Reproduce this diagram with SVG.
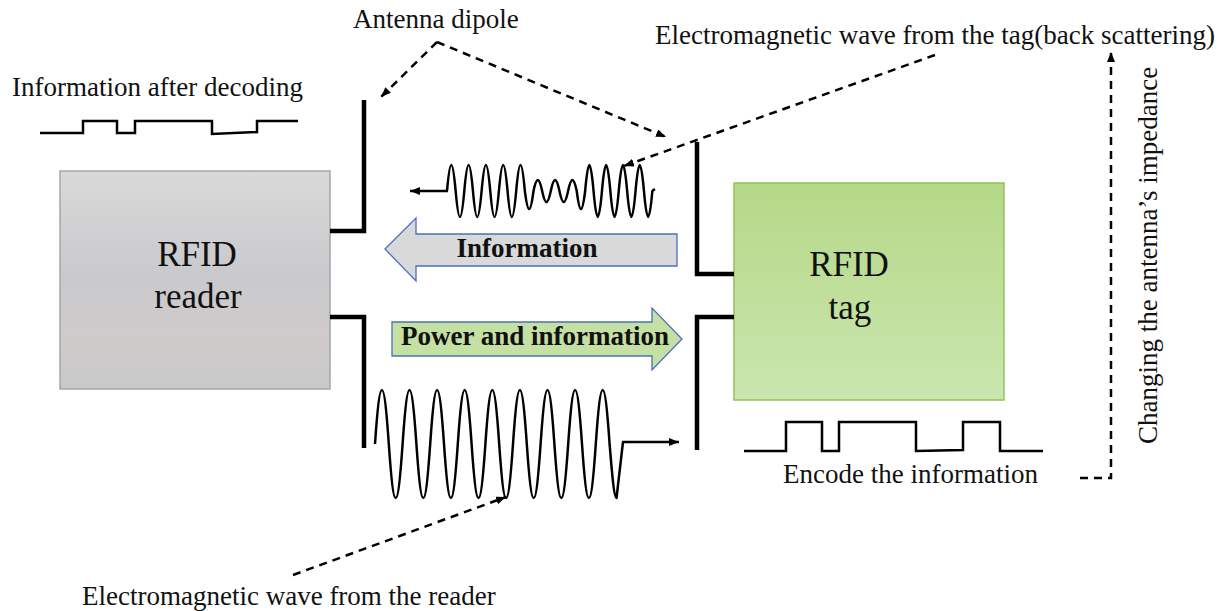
<svg xmlns="http://www.w3.org/2000/svg" width="1228" height="611" viewBox="0 0 1228 611">
<defs>
<linearGradient id="gReader" x1="0" y1="0" x2="0" y2="1">
<stop offset="0" stop-color="#d9d9d9"/>
<stop offset="0.5" stop-color="#c9c9cd"/>
<stop offset="0.75" stop-color="#d0cbcb"/>
<stop offset="1" stop-color="#c9c9c9"/>
</linearGradient>
<linearGradient id="gTag" x1="0" y1="0" x2="0" y2="1">
<stop offset="0" stop-color="#b5d887"/>
<stop offset="1" stop-color="#cae6af"/>
</linearGradient>
<marker id="ah" viewBox="0 0 10 8" refX="10" refY="4" markerWidth="10" markerHeight="8" markerUnits="userSpaceOnUse" orient="auto">
<path d="M0,0 L10,4 L0,8 z" fill="#000"/>
</marker>
<style>
.t{font-family:"Liberation Serif","Times New Roman",serif;font-size:27px;fill:#111}
.tb{font-family:"Liberation Serif","Times New Roman",serif;font-size:27px;font-weight:bold;fill:#111}
.big{font-family:"Liberation Serif","Times New Roman",serif;font-size:35px;fill:#111}
.ant{fill:none;stroke:#000;stroke-width:4.5;stroke-linejoin:miter}
.sig{fill:none;stroke:#000;stroke-width:2.5;stroke-linejoin:miter}
.wave{fill:none;stroke:#000;stroke-width:2.5;stroke-linejoin:round}
.dash{fill:none;stroke:#000;stroke-width:2.5;stroke-dasharray:8 6}
.barrow{stroke:#4a6fc0;stroke-width:1.3}
</style>
</defs>
<rect width="1228" height="611" fill="#fff"/>

<g id="reader">
<rect x="60" y="171" width="270" height="218" fill="url(#gReader)" stroke="#a6a6a6" stroke-width="1.5"/>
<text class="big" x="197" y="266" text-anchor="middle">RFID</text>
<text class="big" x="198" y="308" text-anchor="middle">reader</text>
</g>

<g id="reader-antenna">
<path class="ant" d="M330,231 H364 V100"/>
<path class="ant" d="M330,317 H364 V448"/>
</g>

<g id="tag">
<rect x="734" y="183" width="270" height="217" fill="url(#gTag)" stroke="#92c454" stroke-width="1.5"/>
<text class="big" x="849" y="276" text-anchor="middle">RFID</text>
<text class="big" x="850" y="319" text-anchor="middle">tag</text>
</g>

<g id="tag-antenna">
<path class="ant" d="M734,274 H697 V142"/>
<path class="ant" d="M734,317 H697 V450"/>
</g>

<g id="info-arrow">
<path class="barrow" fill="#d9d9d9" d="M385,249 L416,218 L416,234 L677,234 L677,266 L416,266 L416,281 Z"/>
<text class="tb" x="527" y="257" text-anchor="middle">Information</text>
</g>

<g id="power-arrow">
<path class="barrow" fill="#c5e0a3" d="M392,322 L652,322 L652,308 L682,339 L652,370 L652,356 L392,356 Z"/>
<text class="tb" x="535" y="345" text-anchor="middle">Power and information</text>
</g>

<g id="decoded-signal">
<text class="t" x="12" y="96">Information after decoding</text>
<path class="sig" d="M40,133 H83 V121 H117 V133 H135 V121 H212 V134 L257,132 V121 H298"/>
</g>

<g id="encoded-signal">
<path class="sig" d="M744,451 H786 V422 H822 V451 H839 V422 H916 V451 L963,450 V422 H1000 V451 H1043"/>
<text class="t" x="783" y="483">Encode the information</text>
</g>

<g id="tag-wave">
<path class="wave" d="M447,191
c3.1,-34.7 5.5,-34.7 8.65,0 c3.1,34.7 5.5,34.7 8.65,0
c3.1,-34.7 5.5,-34.7 8.65,0 c3.1,34.7 5.5,34.7 8.65,0
c3.1,-34.7 5.5,-34.7 8.65,0 c3.1,34.7 5.5,34.7 8.65,0
c3.1,-34.7 5.5,-34.7 8.65,0 c3.1,34.7 5.5,34.7 8.65,0
c3.1,-34.7 5.5,-34.7 8.65,0 c3.1,24 5.5,24 8.65,0
c3.1,-14.7 5.5,-14.7 8.65,0 c3.1,14.7 5.5,14.7 8.65,0
c3.1,-14.7 5.5,-14.7 8.65,0 c3.1,14.7 5.5,14.7 8.65,0
c3.1,-14.7 5.5,-14.7 8.65,0 c3,24 5.4,24 8.4,0
c3,-34.7 5.4,-34.7 8.4,0 c3,34.7 5.4,34.7 8.4,0
c3,-34.7 5.4,-34.7 8.4,0 c3,34.7 5.4,34.7 8.4,0
c3,-34.7 5.4,-34.7 8.4,0 c3,34.7 5.4,34.7 8.4,0
c3,-34.7 5.4,-34.7 8.4,0 c3,34.7 5.4,34.7 8.4,0 l2.5,-2"/>
<path class="sig" d="M448,191 H410" marker-end="url(#ah)"/>
</g>

<g id="reader-wave">
<path class="wave" d="M375,444
c5,-72 8.8,-72 13.8,0 c5,72 8.8,72 13.8,0
c5,-72 8.8,-72 13.8,0 c5,72 8.8,72 13.8,0
c5,-72 8.8,-72 13.8,0 c5,72 8.8,72 13.8,0
c5,-72 8.8,-72 13.8,0 c5,72 8.8,72 13.8,0
c5,-72 8.8,-72 13.8,0 c5,72 8.8,72 13.8,0
c5,-72 8.8,-72 13.8,0 c5,72 8.8,72 13.8,0
c5,-72 8.8,-72 13.8,0 c5,72 8.8,72 13.8,0
c5,-72 8.8,-72 13.8,0 c5,72 8.8,72 13.8,0
c5,-72 8.8,-72 13.8,0
c2.3,28 4.4,54 6.9,54 L623,442"/>
<path class="sig" d="M622,442 H679" marker-end="url(#ah)"/>
</g>

<g id="labels">
<text class="t" x="353" y="28">Antenna dipole</text>
<text class="t" x="655" y="44">Electromagnetic wave from the tag(back scattering)</text>
<text class="t" x="82" y="605">Electromagnetic wave from the reader</text>
<text class="t" transform="translate(1157,444) rotate(-90)">Changing the antenna’s impedance</text>
</g>

<g id="connectors">
<path class="dash" d="M437,42 L381,97" marker-end="url(#ah)"/>
<path class="dash" d="M437,42 L666,137" marker-end="url(#ah)"/>
<path class="dash" d="M935,55 L624,166" marker-end="url(#ah)"/>
<path class="dash" d="M293,575 L506,497" marker-end="url(#ah)"/>
<path class="dash" d="M1080,478 H1111 V52" marker-end="url(#ah)"/>
</g>
</svg>
